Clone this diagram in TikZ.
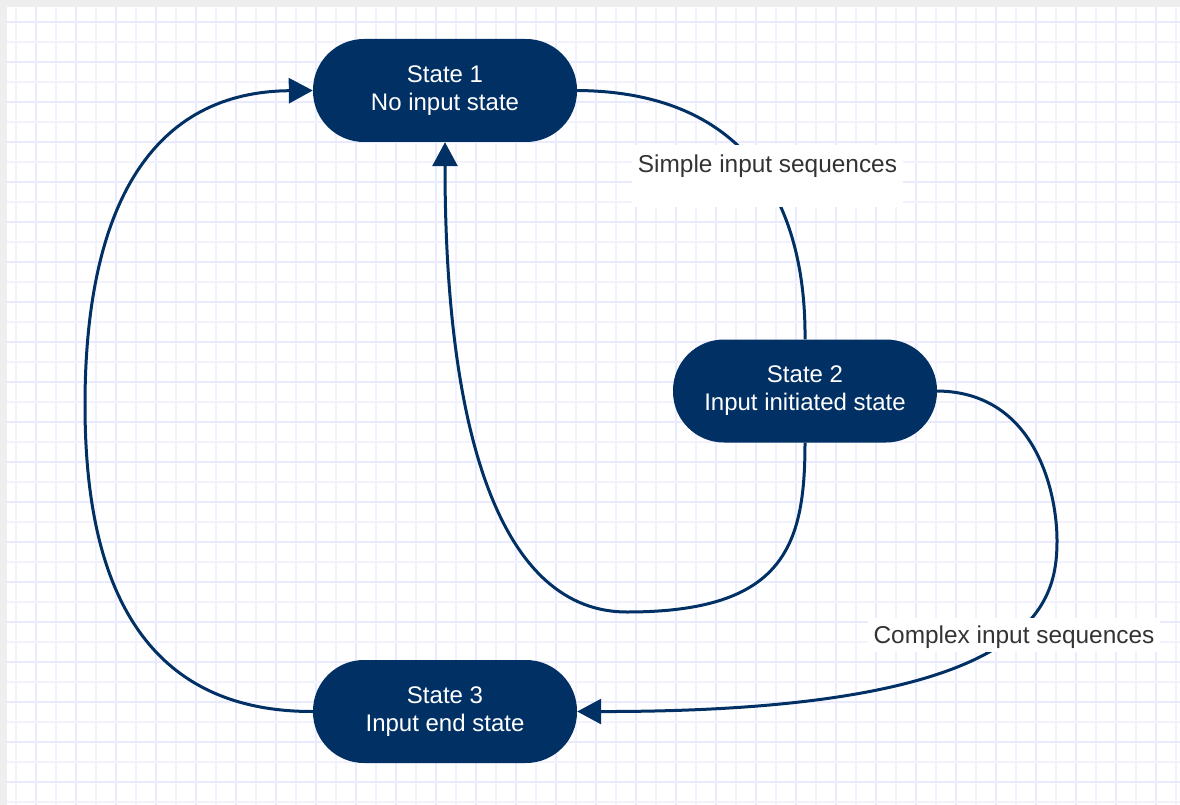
\documentclass[tikz,border=0pt]{standalone}
\usepackage{fontspec}
\setmainfont{Liberation Sans}
\usetikzlibrary{arrows.meta}
\definecolor{navy}{HTML}{003064}
\definecolor{gridminor}{HTML}{F2F2FF}
\definecolor{gridmajor}{HTML}{EAEAFF}
\definecolor{outerbg}{HTML}{EEEEEE}
\definecolor{labeltext}{HTML}{333333}
\begin{document}
\begin{tikzpicture}[x=1pt,y=-1pt,
  statebox/.style={fill=navy, rounded corners=51pt, minimum width=264pt, minimum height=103pt, inner sep=0pt, text=white, align=center, font=\fontsize{24}{28}\selectfont},
  edgeline/.style={draw=navy, line width=3pt},
  tipped/.style={edgeline, -{Triangle[length=24pt,width=25pt]}},
  edgelabel/.style={fill=white, inner sep=0pt, text=labeltext, font=\fontsize{24.4}{28}\selectfont, anchor=base}]
\useasboundingbox (0,0) rectangle (1180,805);
\fill[outerbg] (0,0) rectangle (1180,805);
\fill[white] (7,7) rectangle (1180,805);
\foreach \k in {0,...,58}{%
  \ifodd\k
    \draw[gridmajor,line width=1.5pt] (16+20*\k,7) -- (16+20*\k,805);
  \else
    \draw[gridminor,line width=1.5pt] (16+20*\k,7) -- (16+20*\k,805);
  \fi}
\foreach \k in {0,...,39}{%
  \ifodd\k
    \draw[gridminor,line width=1.5pt] (7,22+20*\k) -- (1180,22+20*\k);
  \else
    \draw[gridmajor,line width=1.5pt] (7,22+20*\k) -- (1180,22+20*\k);
  \fi}
% states
\node[statebox] (s1) at (445,90.5) {State 1\\No input state};
\node[statebox] (s2) at (805,391) {State 2\\Input initiated state};
\node[statebox] (s3) at (445,711.5) {State 3\\Input end state};
% bend points
\coordinate (b2) at (627,612);
\coordinate (b3) at (1057,540);
\coordinate (b4) at (85,405);
% connectors
\draw[edgeline] (s1.east) .. controls (773,92) and (806,239) .. (s2.north);
\draw[tipped] (s2.south) .. controls (805,546) and (784,612) .. (b2) .. controls (504,612) and (445,443) .. (s1.south);
\draw[tipped] (s2.east) .. controls (1038,392) and (1057,497) .. (b3) .. controls (1057,604) and (1038,712) .. (s3.east);
\draw[tipped] (s3.west) .. controls (121,712) and (85,548) .. (b4) .. controls (85,222) and (142,92) .. (s1.west);
% labels
\node[edgelabel, minimum width=271pt, text height=28pt, text depth=34pt] (l1) at (767.5,173) {Simple input sequences};
\node[edgelabel, minimum width=292pt, text height=25pt, text depth=9pt] (l2) at (1014,643) {Complex input sequences};
\end{tikzpicture}
\end{document}
